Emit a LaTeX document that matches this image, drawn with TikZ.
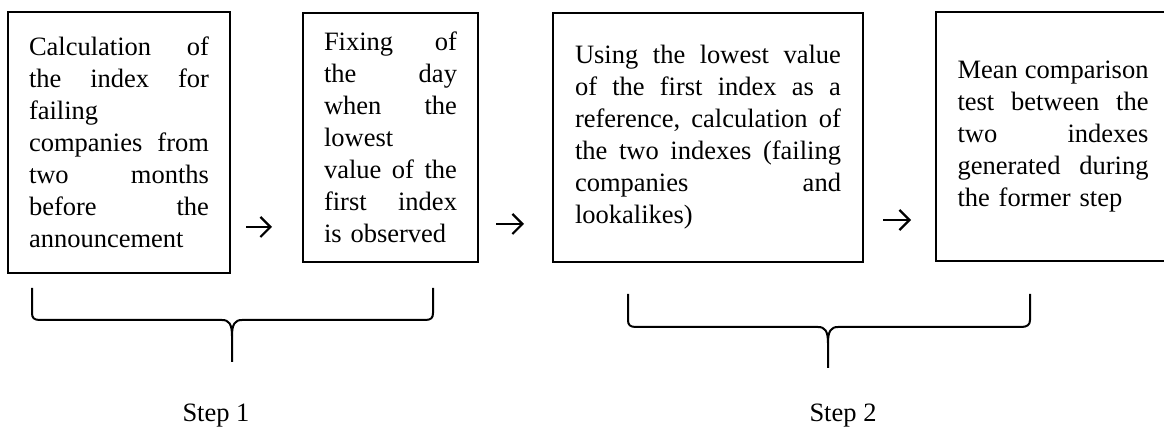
\documentclass[tikz,border=0pt]{standalone}
\usepackage{fontspec}
\setmainfont{Liberation Serif}
\usetikzlibrary{arrows.meta, calc, positioning}

\tikzset{
  stagebox/.style={draw, line width=1pt, rectangle, inner sep=0pt, align=left},
  flowarrow/.style={-{Straight Barb[length=5pt,width=10pt]}, line width=1.1pt},
  bracestroke/.style={line width=1pt, line join=round},
  steplabel/.style={anchor=base, inner sep=0pt}
}

\begin{document}
\begin{tikzpicture}[x=0.5pt,y=-0.5pt,font=\fontsize{13.25}{16}\selectfont]
    \useasboundingbox (0,0) rectangle (1164,427);
    \clip (0,0) rectangle (1164,427);
    \node[stagebox,minimum width=111pt,minimum height=130.5pt,text width=90pt] (calcbox) at (119,142.5) {Calculation\hfill of\\the\hfill index\hfill for\\failing\\companies\hfill from\\two\hfill months\\before\hfill the\\announcement};
    \node[stagebox,minimum width=87.5pt,minimum height=124.5pt,text width=66.5pt] (fixbox) at (390.5,137.5) {Fixing\hfill of\\the\hfill day\\when\hfill the\\lowest\\value\hfill of\hfill the\\first\hfill index\\is observed};
    \node[stagebox,minimum width=155pt,minimum height=124.5pt,text width=133pt] (refbox) at (708,137.5) {Using\hfill the\hfill lowest\hfill value\\of\hfill the\hfill first\hfill index\hfill as\hfill a\\reference,\hfill calculation\hfill of\\the\hfill two\hfill indexes\hfill (failing\\companies\hfill and\\lookalikes)};
    \node[stagebox,minimum width=117pt,minimum height=124.5pt,text width=95.5pt] (testbox) at (1053,136.5) {Mean\hfill comparison\\test\hfill between\hfill the\\two\hfill indexes\\generated\hfill during\\the former step};
    \draw[flowarrow] ($(calcbox.east |- 0,227)+(15,0)$) -- ($(fixbox.west |- 0,227)+(-30,0)$);
    \draw[flowarrow] ($(fixbox.east |- 0,224)+(17,0)$) -- ($(refbox.west |- 0,224)+(-28,0)$);
    \draw[flowarrow] ($(refbox.east |- 0,220)+(19,0)$) -- ($(testbox.west |- 0,220)+(-24,0)$);
    \draw[bracestroke] (32,288) -- (32,313) .. controls (32,318) and (34,320) .. (40,320) -- (222,320) .. controls (229,320) and (232,324) .. (232,336) -- (232,362);
    \draw[bracestroke] (232,336) .. controls (232,324) and (235,320) .. (242,320) -- (425,320) .. controls (431,320) and (433,318) .. (433,313) -- (433,288);
    \draw[bracestroke] (628,294) -- (628,320) .. controls (628,325) and (630,327) .. (636,327) -- (818,327) .. controls (825,327) and (828,331) .. (828,343) -- (828,368);
    \draw[bracestroke] (828,343) .. controls (828,331) and (831,327) .. (838,327) -- (1021,327) .. controls (1027,327) and (1030,325) .. (1030,320) -- (1030,294);
    \node[steplabel] (step1) at (216,422) {Step 1};
    \node[steplabel] (step2) at (843,422) {Step 2};
  \end{tikzpicture}
\end{document}
